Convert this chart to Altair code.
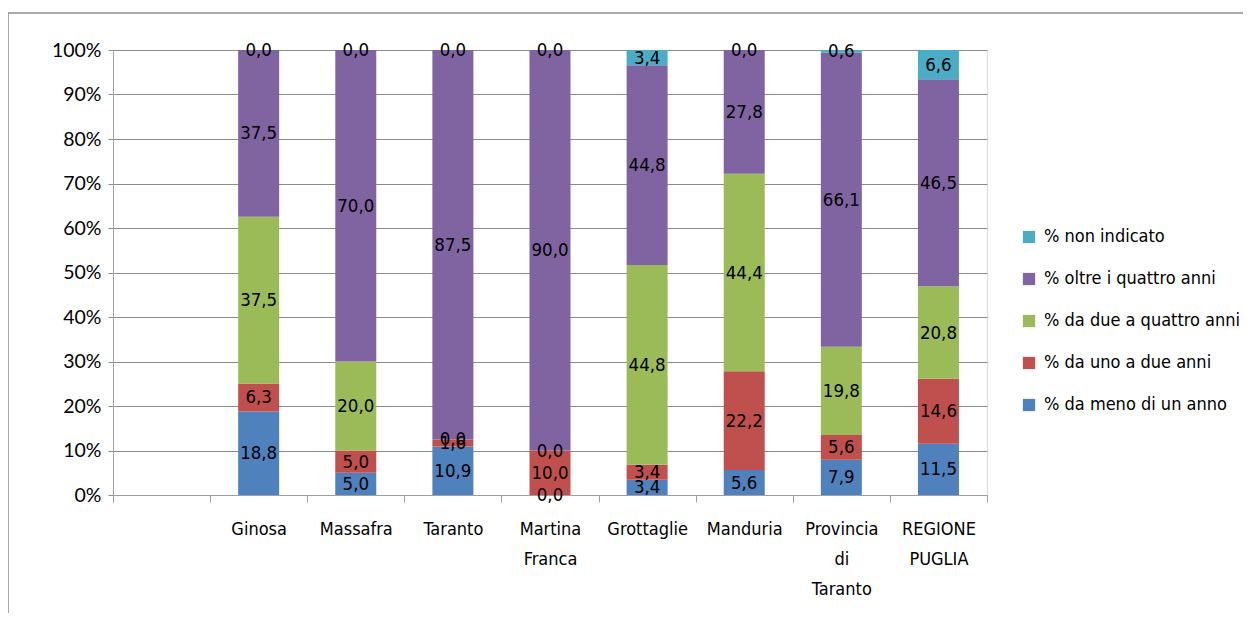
import altair as alt
import pandas as pd

categories = ["Ginosa", "Massafra", "Taranto", "Martina Franca", "Grottaglie",
              "Manduria", "Provincia di Taranto", "REGIONE PUGLIA"]
series = ["% da meno di un anno", "% da uno a due anni", "% da due a quattro anni",
          "% oltre i quattro anni", "% non indicato"]
meno = [18.8, 5.0, 10.9, 0.0, 3.4, 5.6, 7.9, 11.5]
uno = [6.3, 5.0, 1.6, 10.0, 3.4, 22.2, 5.6, 14.6]
due = [37.5, 20.0, 0.0, 0.0, 44.8, 44.4, 19.8, 20.8]
oltre = [37.5, 70.0, 87.5, 90.0, 44.8, 27.8, 66.1, 46.5]
non_ind = [0.0, 0.0, 0.0, 0.0, 3.4, 0.0, 0.6, 6.6]
colors = ["#4F81BD", "#C0504D", "#9BBB59", "#8064A2", "#4BACC6"]
y_ticks = [0, 0.1, 0.2, 0.3, 0.4, 0.5, 0.6, 0.7, 0.8, 0.9, 1.0]

rows = []
for k, (s, vals) in enumerate(zip(series, [meno, uno, due, oltre, non_ind])):
    for c, v in zip(categories, vals):
        rows.append({"cat": c, "series": s, "k": k, "value": v,
                     "label": f"{v:.1f}".replace(".", ",")})
df = pd.DataFrame(rows)

x_domain = [" "] + categories
narrow = "'DejaVu Sans Condensed', 'Roboto', sans-serif"

xenc = alt.X("cat:N", scale=alt.Scale(domain=x_domain, paddingInner=0, paddingOuter=0),
             sort=x_domain,
             axis=alt.Axis(title=None, labelAngle=0, labelExpr="split(datum.label, ' ')",
                           tickBand="extent", tickSize=7, tickColor="#a0a0a0",
                           domainColor="#a0a0a0", labelFont=narrow, labelFontSize=18,
                           labelColor="#000000", labelPadding=18, labelLineHeight=30,
                           labelBaseline="top", grid=False))

base = alt.Chart(df).transform_stack(
    stack="value", groupby=["cat"], as_=["v0", "v1"],
    sort=[alt.SortField("k", order="ascending")], offset="normalize"
).transform_calculate(mid="(datum.v0 + datum.v1) / 2")

bars = base.mark_bar(size=41).encode(
    x=xenc,
    y=alt.Y("v0:Q", scale=alt.Scale(domain=[0, 1], nice=False),
            axis=alt.Axis(title=None, format=".0%", values=y_ticks, labelOverlap=False,
                          grid=True, gridColor="#8c8c8c", tickSize=5, tickColor="#8c8c8c",
                          domainColor="#a0a0a0", labelFont="Lato", labelFontSize=19.5,
                          labelColor="#000000", labelPadding=7)),
    y2="v1:Q",
    color=alt.Color("series:N",
                    scale=alt.Scale(domain=series[::-1], range=colors[::-1]),
                    legend=alt.Legend(title=None, orient="none", legendX=907, legendY=178,
                                      symbolType="square", symbolSize=150, symbolStrokeWidth=0,
                                      labelFont=narrow, labelFontSize=18, labelColor="#000000",
                                      labelLimit=400, rowPadding=24, labelOffset=6)),
)

texts = base.mark_text(font=narrow, fontSize=18.5, color="#000000", baseline="middle").encode(
    x=alt.X("cat:N", sort=x_domain),
    y=alt.Y("mid:Q"),
    text="label:N",
)

border_df = pd.DataFrame({"a": [0]})
left_border = alt.Chart(border_df).mark_rule(color="#8c8c8c", strokeWidth=1.5).encode(
    x=alt.value(-105), y=alt.value(-37), y2=alt.value(700))
top_border = alt.Chart(border_df).mark_rule(color="#8c8c8c", strokeWidth=1.5).encode(
    x=alt.value(-105), x2=alt.value(1300), y=alt.value(-37))

chart = alt.layer(bars, texts, left_border, top_border).properties(
    width=874, height=445,
    autosize=alt.AutoSizeParams(type="none"),
    padding={"left": 105, "top": 42, "right": 256, "bottom": 118},
).configure_view(stroke=None).configure(background="white")

chart.save("out.html", embed_options={"renderer": "svg", "actions": False})
